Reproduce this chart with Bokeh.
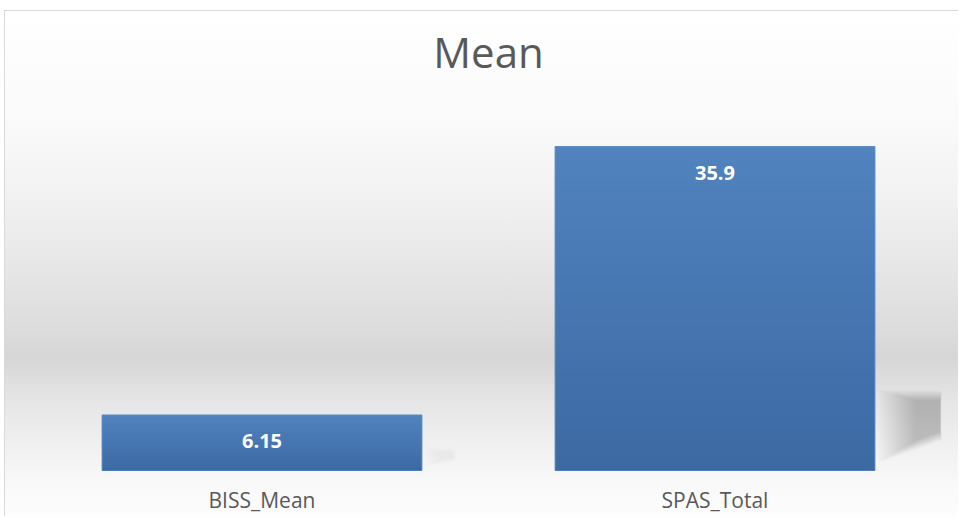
from bokeh.plotting import figure
from bokeh.models import Range1d, FactorRange, Label
from bokeh.core.properties import value
from bokeh.embed import file_html
from bokeh.resources import INLINE

# ---- data ----
title_text = "Mean"
categories = ["BISS_Mean", "SPAS_Total"]
means = [6.15, 35.9]
value_labels = ["6.15", "35.9"]

# ---- style ----
FONT = "Open Sans"
TEXT_GREY = "#595959"
BAR_WIDTH = 0.706
TOP_RGB = (0x51, 0x83, 0xbf)
BOTTOM_RGB = (0x3c, 0x69, 0xa2)
N_SLICES = 60

p = figure(
    width=954, height=506,
    x_range=FactorRange(factors=categories, range_padding=0),
    y_range=Range1d(0, 50.86),
    output_backend="svg", toolbar_location=None,
    min_border_left=30, min_border_right=18,
    min_border_top=0, min_border_bottom=47,
)
p.styles = {
    "background": (
        "linear-gradient(to bottom, #ffffff 0px, #fafafa 109px, #f1f1f1 189px, "
        "#e6e6e6 259px, #dcdcdc 319px, #d6d6d6 346px, #e5e5e5 389px, "
        "#efefef 429px, #f8f8f8 469px, #fdfdfd 506px)"
    ),
    "margin-left": "4px",
    "margin-top": "10px",
    "border-left": "1px solid #d9d9d9",
    "border-top": "1px solid #d9d9d9",
}
p.border_fill_alpha = 0
p.background_fill_alpha = 0
p.outline_line_color = None
p.grid.visible = False
p.yaxis.visible = False

ax = p.xaxis[0]
ax.axis_line_color = None
ax.major_tick_line_color = None
ax.minor_tick_line_color = None
ax.major_label_standoff = 9
ax.major_label_text_font = FONT
ax.major_label_text_font_size = "21px"
ax.major_label_text_color = TEXT_GREY

# ---- soft floor shadows to the right of the bars (decoration) ----
# (outer offsets, outer ys, inner offsets, inner ys, layers, alpha per layer)
shadows = {
    "SPAS_Total": ([0.36, 0.36, 0.502, 0.502], [0.8, 8.9, 8.9, 3.3],
                   [0.44, 0.44, 0.497, 0.497], [3.2, 7.8, 7.8, 4.3], 26, 0.0085),
    "BISS_Mean": ([0.356, 0.356, 0.43, 0.43], [0.3, 2.6, 2.6, 1.0],
                  [0.39, 0.39, 0.42, 0.42], [1.0, 2.0, 2.0, 1.4], 10, 0.004),
}
for cat, (ox, oy, ix, iy, k, a) in shadows.items():
    for j in range(k):
        f = j / (k - 1)
        px = [o + (i - o) * f for o, i in zip(ox, ix)]
        py = [o + (i - o) * f for o, i in zip(oy, iy)]
        p.patch(x=[(cat, v) for v in px], y=py, fill_color="black",
                fill_alpha=a, line_color=None)

# ---- bars with vertical gradient (painted tallest first) ----
xs, tops, colors = [], [], []
for cat, v in zip(categories, means):
    for i in reversed(range(N_SLICES)):
        t = (i + 0.5) / N_SLICES
        c = tuple(round(b + (a - b) * t) for a, b in zip(TOP_RGB, BOTTOM_RGB))
        xs.append(cat)
        tops.append(v * (i + 1) / N_SLICES)
        colors.append("#%02x%02x%02x" % c)
p.vbar(x=xs, bottom=0, top=tops, width=BAR_WIDTH,
       fill_color=colors, line_color=None)
p.vbar(x=categories, top=means, width=BAR_WIDTH, fill_color=None,
       line_color="#5d8dc8", line_width=1)

# ---- value labels ----
p.text(x=categories, y=means, text=value_labels, text_align="center",
       text_baseline="middle", y_offset=26, text_color="white",
       text_font=value(FONT), text_font_style="bold", text_font_size="20px")

# ---- title ----
p.add_layout(Label(x=1.0, y=46.4, text=title_text, text_align="center",
                   text_baseline="alphabetic", text_font=FONT,
                   text_font_size="42px", text_color=TEXT_GREY))

open("out.html", "w").write(file_html(p, INLINE))
